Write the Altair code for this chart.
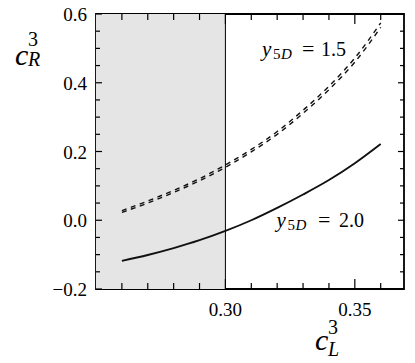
import altair as alt
import pandas as pd

# ---- data ----
x_vals = [0.26, 0.27, 0.28, 0.29, 0.30, 0.31, 0.32, 0.33, 0.34, 0.35, 0.36]
y_15_a = [0.028, 0.056, 0.087, 0.121, 0.161, 0.206, 0.258, 0.320, 0.390, 0.472, 0.574]
y_15_b = [0.023, 0.050, 0.081, 0.115, 0.154, 0.199, 0.250, 0.311, 0.380, 0.460, 0.561]
y_20 = [-0.118, -0.101, -0.081, -0.058, -0.031, 0.000, 0.036, 0.075, 0.117, 0.166, 0.222]
series_names = ["y15a", "y15b", "y20"]

shade_x = [0.25, 0.30]
cut_x = [0.30]
x_domain = [0.25, 0.369]
y_domain = [-0.2, 0.6]
x_major = [0.30, 0.35]
x_minor = [0.26, 0.27, 0.28, 0.29, 0.31, 0.32, 0.33, 0.34, 0.36]
y_major = [-0.2, 0.0, 0.2, 0.4, 0.6]
y_minor = [-0.15, -0.1, -0.05, 0.05, 0.1, 0.15, 0.25, 0.3, 0.35, 0.45, 0.5, 0.55]

FONT = "Liberation Serif"
W, H = 308, 275
INK = "#111111"

rows = []
for name, ys_ in zip(series_names, [y_15_a, y_15_b, y_20]):
    for xv, yv in zip(x_vals, ys_):
        rows.append({"series": name, "x": xv, "y": yv})
df = pd.DataFrame(rows)

xs = alt.Scale(domain=x_domain, nice=False, zero=False)
ys = alt.Scale(domain=y_domain, nice=False, zero=False)


def X(field):
    return alt.X(field, scale=xs, axis=None, title=None)


def Y(field):
    return alt.Y(field, scale=ys, axis=None, title=None)


shade = alt.Chart(pd.DataFrame({"x0": [shade_x[0]], "x1": [shade_x[1]],
                                "y0": [y_domain[0]], "y1": [y_domain[1]]})).mark_rect(
    color="#e5e5e5").encode(x=X("x0:Q"), x2="x1", y=Y("y0:Q"), y2="y1")

cut = alt.Chart(pd.DataFrame({"v": cut_x})).mark_rule(color="black", strokeWidth=1).encode(
    x=X("v:Q"))

dashed = alt.Chart(df).transform_filter(
    alt.FieldOneOfPredicate(field="series", oneOf=series_names[:2])
).mark_line(strokeWidth=1.4, color=INK, interpolate="monotone", strokeDash=[5, 4.5]).encode(
    x=X("x:Q"), y=Y("y:Q"), detail="series:N")

solid = alt.Chart(df).transform_filter(
    alt.FieldEqualPredicate(field="series", equal=series_names[2])
).mark_line(strokeWidth=1.9, color=INK, interpolate="monotone").encode(
    x=X("x:Q"), y=Y("y:Q"))


def xticks(vals, y0, y1):
    return alt.Chart(pd.DataFrame({"v": vals})).mark_rule(color="black", strokeWidth=1.2).encode(
        x=X("v:Q"), y=alt.value(y0), y2=alt.value(y1))


def yticks(vals, x0, x1):
    return alt.Chart(pd.DataFrame({"v": vals})).mark_rule(color="black", strokeWidth=1.2).encode(
        y=Y("v:Q"), x=alt.value(x0), x2=alt.value(x1))


ticks = [
    xticks(x_major, H, H - 10), xticks(x_minor, H, H - 6),
    xticks(x_major, 0, 10), xticks(x_minor, 0, 6),
    yticks(y_major, 0, 6), yticks(y_minor, 0, 4),
    yticks(y_major, W, W - 6), yticks(y_minor, W, W - 4),
]

# tick labels drawn through the scales
x_labels = alt.Chart(pd.DataFrame({"v": x_major})).mark_text(
    align="center", baseline="alphabetic", font=FONT, fontSize=19, color="black").encode(
    x=X("v:Q"), y=alt.value(H + 26.5), text=alt.Text("v:Q", format=".2f"))
y_labels = alt.Chart(pd.DataFrame({"v": y_major})).mark_text(
    align="right", baseline="alphabetic", font=FONT, fontSize=19, color="black", dy=7).encode(
    y=Y("v:Q"), x=alt.value(-9), text=alt.Text("v:Q", format=".1f"))


def txt(s, x, y, size, italic=False):
    return alt.Chart(pd.DataFrame({"t": [s]})).mark_text(
        align="left", baseline="alphabetic", font=FONT, fontSize=size,
        fontStyle="italic" if italic else "normal", color="black").encode(
        x=alt.value(x), y=alt.value(y), text="t:N")


texts = [
    # y-axis title c_R^3
    txt("c", -81, 51, 30, True), txt("3", -68, 32, 20), txt("R", -68, 52, 20, True),
    # x-axis title c_L^3
    txt("c", 219, 336, 30, True), txt("3", 232, 320, 20), txt("L", 232, 342, 20, True),
    # curve labels
    txt("y", 166, 42, 21, True), txt("5", 177, 45, 15), txt("D", 185, 45, 15, True),
    txt("=", 206, 42, 22), txt("1.5", 225, 42, 20),
    txt("y", 180.5, 212.5, 21, True), txt("5", 191.5, 215.5, 15), txt("D", 199.5, 215.5, 15, True),
    txt("=", 222, 212.5, 22), txt("2.0", 243, 212.5, 20),
]

chart = alt.layer(shade, cut, dashed, solid, *ticks, x_labels, y_labels, *texts).properties(
    width=W, height=H,
    padding={"left": 88, "top": 6, "right": 2, "bottom": 70},
    autosize=alt.AutoSizeParams(type="none"),
).configure_view(stroke="black", strokeWidth=1.8)

chart.save("out.html", embed_options={"renderer": "svg", "actions": False})
